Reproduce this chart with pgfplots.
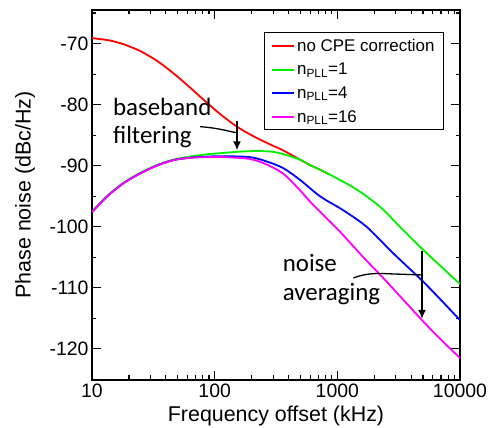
\documentclass[border=0pt]{standalone}
\usepackage{fontspec}
\setmainfont{Liberation Sans}
\newfontfamily\carlito{Carlito}
\usepackage{pgfplots}
\pgfplotsset{compat=1.18}
\usetikzlibrary{arrows.meta}

\definecolor{cRed}{RGB}{255,0,0}
\definecolor{cGreen}{RGB}{0,240,0}
\definecolor{cBlue}{RGB}{0,0,255}
\definecolor{cMag}{RGB}{255,0,255}

\begin{document}
\begin{tikzpicture}
\begin{axis}[
    at={(0,0)}, anchor=south west,
    scale only axis,
    width=368bp, height=370bp,
    xmode=log,
    xmin=10, xmax=10000,
    ymin=-125.1, ymax=-64.5,
    axis line style={line width=1.4bp},
    tick align=inside,
    tick style={line width=1.2bp, black},
    major tick length=9bp,
    minor tick length=4.5bp,
    xtick={10,100,1000,10000},
    xticklabels={10,100,1000,10000},
    ytick={-120,-110,-100,-90,-80,-70},
    yticklabels={-120,-110,-100,-90,-80,-70},
    minor ytick={-125,-115,-105,-95,-85,-75,-65},
    tick label style={font=\fontsize{19.5}{22}\selectfont},
    /pgf/number format/assume math mode=true,
    xlabel={Frequency offset (kHz)},
    ylabel={Phase noise (dBc/Hz)},
    label style={font=\fontsize{21.5}{24}\selectfont},
    xlabel style={at={(axis description cs:0.5,-0.097)}, anchor=center},
    ylabel style={at={(axis description cs:-0.182,0.5)}, anchor=center},
    legend style={at={(axis description cs:0.957,0.94)}, anchor=north east,
        draw=black, line width=1.2bp, font=\fontsize{17}{19}\selectfont,
        row sep=6.5bp, inner xsep=7bp, inner ysep=4bp},
    legend cell align=left,
    legend image code/.code={\draw[#1, line width=2bp] (0bp,0bp) -- (22bp,0bp);},
    every axis plot/.append style={line width=1.8bp, smooth},
    clip=true,
]
% no CPE correction
\addplot[cRed] coordinates {
(10,-69.1) (14,-69.5) (18,-70.1) (24.6,-71.2) (33.7,-72.8) (46,-74.85)
(63,-77.2) (86,-79.65) (117.5,-81.95) (160,-83.9) (220,-85.45) (282,-86.5)
(350,-87.35) (411,-88.1) (495,-89.0) (600,-89.9) (721,-90.65) (850,-91.4)
};
\addlegendentry{no CPE correction}
% n_PLL = 1
\addplot[cGreen] coordinates {
(10,-97.5) (13.2,-95.0) (18,-92.8) (24.6,-91.2) (33.7,-89.9) (46,-89.0)
(63,-88.5) (90,-88.1) (120,-87.9) (160,-87.7) (220,-87.6) (290,-87.7)
(362,-88.1) (495,-89.0) (600,-89.9) (721,-90.65) (927,-91.75) (1436,-93.9)
(2223,-96.7) (3236,-100.0) (4900,-103.6) (7000,-106.5) (10000,-109.4)
};
\addlegendentry{n\textsubscript{PLL}=1}
% n_PLL = 4
\addplot[cBlue] coordinates {
(10,-97.6) (13.2,-95.1) (18,-92.9) (24.6,-91.3) (33.7,-90.0) (46,-89.1)
(63,-88.7) (90,-88.5) (120,-88.45) (194,-88.6) (265,-89.3) (362,-90.4)
(495,-92.3) (679,-94.6) (818,-95.7) (1117,-97.3) (1731,-100.0) (2840,-104.3)
(4900,-108.8) (7000,-112.0) (10000,-115.3)
};
\addlegendentry{n\textsubscript{PLL}=4}
% n_PLL = 16
\addplot[cMag] coordinates {
(10,-97.6) (13.2,-95.1) (18,-92.9) (24.6,-91.3) (33.7,-90.0) (46,-89.1)
(63,-88.7) (90,-88.6) (120,-88.6) (194,-88.9) (265,-89.8) (362,-91.3)
(495,-94.0) (600,-95.9) (721,-97.5) (1050,-100.8) (1630,-105.0) (2500,-108.9)
(4900,-115.3) (7000,-118.5) (10000,-121.5)
};
\addlegendentry{n\textsubscript{PLL}=16}

% annotations
\node[font=\carlito\fontsize{25}{29}\selectfont, align=left, anchor=west, inner sep=0pt]
  at (axis cs:14.8,-83.0) {baseband\\filtering};
\draw[line width=1.3bp] (axis cs:76,-83.6) .. controls (axis cs:115,-83.9) and (axis cs:135,-84.5) .. (axis cs:152,-84.6);
\draw[line width=2.2bp, -{Latex[length=9bp,width=8bp]}] (axis cs:152,-82.7) -- (axis cs:152,-87.5);

\node[font=\carlito\fontsize{25}{29}\selectfont, align=left, anchor=west, inner sep=0pt]
  at (axis cs:358,-108.7) {noise\\averaging};
\draw[line width=1.3bp] (axis cs:1349,-108.4) .. controls (axis cs:1700,-107.6) and (axis cs:2100,-107.6) .. (axis cs:2600,-107.7) -- (axis cs:4900,-107.9);
\draw[line width=2.2bp, -{Latex[length=9bp,width=8bp]}] (axis cs:4900,-104.0) -- (axis cs:4900,-115.1);
\end{axis}
\pgfresetboundingbox
\path[use as bounding box] (-92bp,-48bp) rectangle (406bp,380bp);
\end{tikzpicture}
\end{document}
